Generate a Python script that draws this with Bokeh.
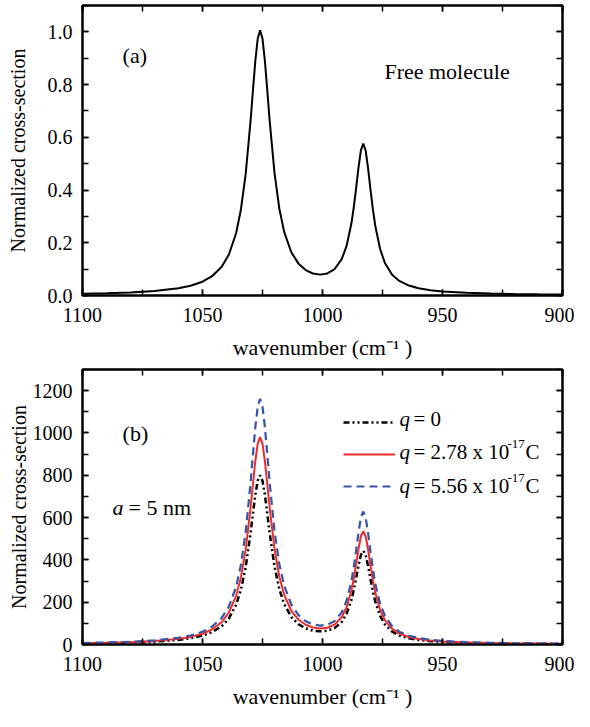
from bokeh.plotting import figure
from bokeh.layouts import column
from bokeh.models import (Range1d, LinearAxis, SingleIntervalTicker, NumeralTickFormatter,
                          CustomJSTickFormatter, Label, Legend, LegendItem)
from bokeh.embed import file_html
from bokeh.resources import INLINE

FONT = "Liberation Serif"

# ---------------- data ----------------
wavenumber = [1100, 1090, 1080, 1070, 1060, 1055, 1050, 1046, 1042, 1039, 1036, 1034, 1032, 1030,
              1029, 1028, 1027, 1026, 1025, 1024, 1023, 1022, 1020, 1018, 1016, 1013, 1010, 1007,
              1004, 1001, 998, 995, 992, 990, 988, 987, 986, 985, 984, 983, 982, 981, 980, 979,
              978, 976, 974, 971, 968, 964, 960, 955, 950, 940, 930, 920, 910, 900]

free_molecule = [0.0063, 0.0083, 0.0115, 0.0169, 0.0274, 0.0369, 0.0524, 0.0731, 0.1089, 0.1554,
                 0.2362, 0.3253, 0.4613, 0.6592, 0.7760, 0.8888, 0.9738, 1.0061, 0.9744, 0.8899,
                 0.7777, 0.6615, 0.4648, 0.3301, 0.2424, 0.1641, 0.1208, 0.0963, 0.0834, 0.0792,
                 0.0835, 0.0996, 0.1378, 0.1871, 0.2711, 0.3323, 0.4063, 0.4853, 0.5505, 0.5761,
                 0.5490, 0.4823, 0.4018, 0.3263, 0.2636, 0.1763, 0.1234, 0.0790, 0.0552, 0.0376,
                 0.0276, 0.0201, 0.0154, 0.0101, 0.0073, 0.0055, 0.0044, 0.0035]

q_0 = [5.0, 6.6, 9.1, 13.4, 21.7, 29.3, 41.6, 58.1, 86.5, 123.4, 187.7, 258.5, 366.6, 523.9,
       616.8, 706.4, 774.0, 799.7, 774.4, 707.3, 618.1, 525.7, 369.3, 262.2, 192.4, 130.1, 95.6,
       76.1, 65.6, 62.1, 65.1, 77.3, 106.5, 144.3, 208.7, 255.7, 312.4, 373.1, 423.2, 442.8,
       422.0, 370.8, 308.9, 250.9, 202.7, 135.7, 95.0, 60.9, 42.6, 29.0, 21.4, 15.6, 12.0, 7.9,
       5.7, 4.3, 3.4, 2.8]

q_278 = [6.1, 8.1, 11.1, 16.4, 26.6, 35.9, 51.0, 71.2, 106.1, 151.3, 230.1, 317.0, 449.5, 642.5,
         756.4, 866.3, 949.2, 980.6, 949.7, 867.3, 757.9, 644.6, 452.8, 321.4, 235.9, 159.4,
         117.1, 93.1, 80.2, 75.7, 79.3, 93.9, 129.1, 174.9, 252.7, 309.5, 378.1, 451.4, 511.9,
         535.7, 510.5, 448.6, 373.7, 303.6, 245.3, 164.3, 115.0, 73.8, 51.7, 35.2, 25.9, 18.9,
         14.6, 9.6, 6.9, 5.3, 4.2, 3.4]

q_556 = [7.2, 9.5, 13.2, 19.4, 31.5, 42.5, 60.4, 84.3, 125.6, 179.2, 272.6, 375.5, 532.5, 761.0,
         895.9, 1026.1, 1124.4, 1161.6, 1125.0, 1027.4, 897.8, 763.5, 536.3, 380.7, 279.3, 188.8,
         138.6, 110.0, 94.7, 89.3, 93.4, 110.5, 151.8, 205.4, 296.7, 363.3, 443.7, 529.8, 600.7,
         628.6, 599.1, 526.4, 438.6, 356.4, 288.0, 192.9, 135.1, 86.7, 60.7, 41.4, 30.5, 22.3,
         17.2, 11.3, 8.1, 6.2, 4.9, 4.0]

x_range = (1100, 900)
y_range_a = (0, 1.1)
y_range_b = (0, 1300)
x_title = "wavenumber (cm\u207b\u00b9 )"
y_title = "Normalized cross-section"


def tick_style(ax):
    ax.axis_line_width = 2
    ax.axis_line_color = "black"
    ax.major_tick_in = 6
    ax.major_tick_out = 0
    ax.minor_tick_in = 6
    ax.minor_tick_out = 0
    ax.major_tick_line_width = 1.5
    ax.minor_tick_line_width = 1.5
    ax.major_tick_line_color = "black"
    ax.minor_tick_line_color = "black"


def text(p, x, y, s, size="20px", style="normal", y_offset=0):
    p.add_layout(Label(x=x, y=y, text=s, text_font=FONT, text_font_size=size,
                       text_font_style=style, text_color="black", text_baseline="middle",
                       text_align="left", y_offset=y_offset))


def build(height, yr, yticker, yfmt, border_top, ylab_standoff):
    p = figure(width=574, height=height, x_range=Range1d(*x_range), y_range=Range1d(*yr),
               output_backend="svg", toolbar_location=None,
               min_border_left=82, min_border_right=12,
               min_border_top=border_top, min_border_bottom=0)
    p.grid.visible = False
    p.outline_line_color = "black"
    p.outline_line_width = 2
    p.background_fill_color = "white"
    p.border_fill_color = "white"

    p.xaxis[0].ticker = SingleIntervalTicker(interval=50, num_minor_ticks=2)
    p.yaxis[0].ticker = yticker
    if yfmt is not None:
        p.yaxis[0].formatter = yfmt
    for ax in (p.xaxis[0], p.yaxis[0]):
        tick_style(ax)
        ax.major_label_text_font = FONT
        ax.major_label_text_font_size = "20px"
        ax.major_label_text_color = "black"
        ax.axis_label_text_font = FONT
        ax.axis_label_text_font_style = "normal"
        ax.axis_label_text_color = "black"
    p.xaxis[0].major_label_standoff = 12
    p.xaxis[0].axis_label = x_title
    p.xaxis[0].axis_label_text_font_size = "22px"
    p.xaxis[0].axis_label_standoff = 10
    p.yaxis[0].major_label_standoff = 10
    p.yaxis[0].axis_label = y_title
    p.yaxis[0].axis_label_text_font_size = "20px"
    p.yaxis[0].axis_label_standoff = ylab_standoff

    blank = CustomJSTickFormatter(code="return ''")
    top = LinearAxis(ticker=SingleIntervalTicker(interval=50, num_minor_ticks=2), formatter=blank,
                     major_label_text_font_size="0px", major_label_standoff=0)
    right = LinearAxis(ticker=SingleIntervalTicker(interval=yticker.interval, num_minor_ticks=2),
                       formatter=blank, major_label_text_font_size="0px", major_label_standoff=0)
    tick_style(top)
    tick_style(right)
    p.add_layout(top, "above")
    p.add_layout(right, "right")
    return p


# ---------------- panel (a) ----------------
p1 = build(362, y_range_a, SingleIntervalTicker(interval=0.2, num_minor_ticks=2),
           NumeralTickFormatter(format="0.0"), 5, 16)
p1.line(wavenumber, free_molecule, line_color="black", line_width=2)
text(p1, 1083.3, 0.909, "(a)", "22px")
text(p1, 974.2, 0.850, "Free molecule", "22px")

# ---------------- panel (b) ----------------
p2 = build(349, y_range_b, SingleIntervalTicker(interval=200, num_minor_ticks=2),
           None, 7, 0)
r0 = p2.line(wavenumber, q_0, line_color="black", line_width=2.5, line_dash="6 3 2 3 2 3")
r1 = p2.line(wavenumber, q_278, line_color="#ee2b2b", line_width=2)
r2 = p2.line(wavenumber, q_556, line_color="#3554a8", line_width=2.2, line_dash="8 5")

legend = Legend(items=[LegendItem(label=" ", renderers=[r0]),
                       LegendItem(label=" ", renderers=[r1]),
                       LegendItem(label=" ", renderers=[r2])],
                location=(261, 148), glyph_width=52, glyph_height=20, label_height=20,
                label_width=0, label_standoff=0, spacing=12, padding=0, margin=0,
                border_line_alpha=0, background_fill_alpha=0,
                label_text_font=FONT, label_text_font_size="10px")
p2.add_layout(legend)

text(p2, 1083.3, 998, "(b)", "22px")
text(p2, 1087.5, 648, "a", "22px", "italic")
text(p2, 1080.8, 648, "= 5 nm", "22px")

legend_rows = [1066, 910, 750]
legend_values = ["= 0", "= 2.78 x 10", "= 5.56 x 10"]
for yv, s in zip(legend_rows, legend_values):
    text(p2, 967.9, yv, "q", "21px", "italic")
    text(p2, 962.1, yv, s, "21px")
for yv in legend_rows[1:]:
    text(p2, 922.9, yv, "-17", "13px", y_offset=8)
    text(p2, 915.4, yv, "C", "21px")

layout = column(p1, p2)
open("out.html", "w").write(file_html(layout, INLINE))
